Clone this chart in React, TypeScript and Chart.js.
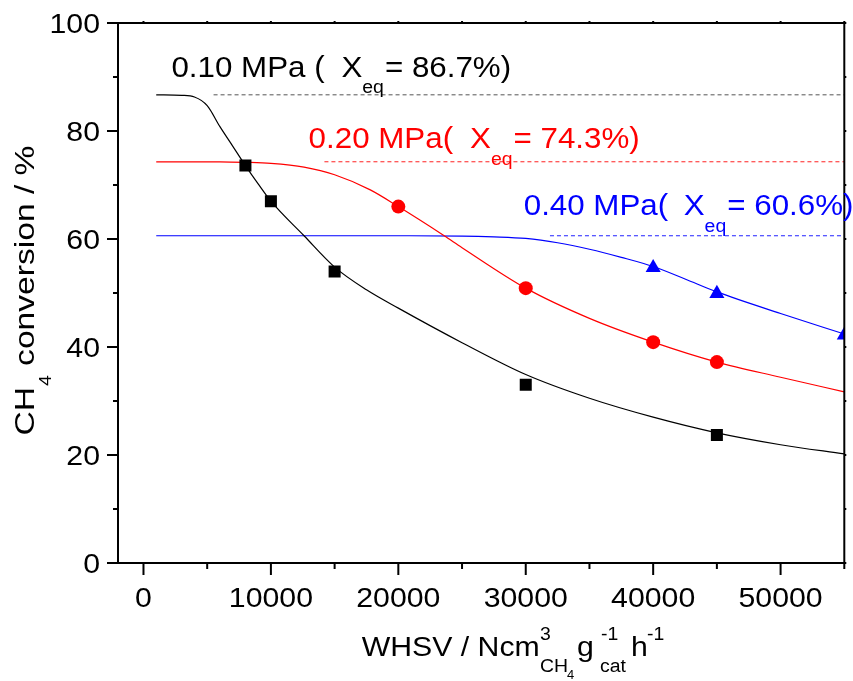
import React, { useEffect, useRef } from 'react';
import { Chart, registerables } from 'chart.js';

Chart.register(...registerables);

// ---------------- data ----------------
const eqLabels = ['0.10 MPa (', '0.20 MPa(', '0.40 MPa('];
const eqConversion = [86.7, 74.3, 60.6];
const eqLineStart = [5500, 14200, 31900];
const eqLineEnd = 55000;
const seriesColors = ['#000000', '#ff0000', '#0000ff'];
const eqLineColors = ['#555555', '#ff2020', '#2020ff'];

// measured points
const whsv010 = [8000, 10000, 15000, 30000, 45000];
const conv010 = [73.6, 67.0, 54.0, 33.0, 23.7];
const whsv020 = [20000, 30000, 40000, 45000];
const conv020 = [66.0, 50.9, 40.9, 37.2];
const whsv040 = [40000, 45000, 55000];
const conv040 = [54.7, 49.9, 42.2];

// fitted curves
const fitX010 = [1000, 3000, 4000, 5000, 6000, 7000, 8000, 9000, 10000, 12600, 15000, 17500, 20000, 25000, 30000, 35000, 40000, 45000, 50000, 55000];
const fitY010 = [86.7, 86.6, 86.3, 84.7, 80.8, 77.2, 73.6, 70.2, 67.0, 60.6, 54.8, 50.6, 47.2, 40.8, 34.9, 30.5, 27.0, 24.1, 21.9, 20.2];
const fitX020 = [1000, 6000, 8000, 10000, 12600, 15000, 17800, 20000, 23600, 25000, 30000, 35000, 40000, 45000, 50000, 55000];
const fitY020 = [74.3, 74.3, 74.2, 74.0, 73.3, 71.9, 69.1, 66.0, 60.6, 58.4, 50.9, 45.3, 40.9, 37.2, 34.4, 31.7];
const fitX040 = [1000, 20000, 25000, 27500, 30000, 32500, 35000, 37500, 40000, 42500, 45000, 50000, 55000];
const fitY040 = [60.6, 60.6, 60.55, 60.4, 60.1, 59.3, 58.1, 56.6, 54.9, 52.6, 50.2, 46.2, 42.4];

// axes
const xMin = -2000;
const xMax = 55000;
const yMin = 0;
const yMax = 100;
const xMajorTicks = [0, 10000, 20000, 30000, 40000, 50000];
const xMinorTicks = [5000, 15000, 25000, 35000, 45000, 55000];
const yMajorTicks = [0, 20, 40, 60, 80, 100];
const yMinorTicks = [10, 30, 50, 70, 90];

// ---------------- helpers ----------------
const FONT = '"Liberation Sans", Arial, sans-serif';
const SX = 1.08;

function txt(ctx: CanvasRenderingContext2D, s: string, x: number, y: number, size: number, color: string, align: 'left' | 'center' | 'right' = 'left', sx: number = SX) {
  ctx.save();
  ctx.font = `${size}px ${FONT}`;
  ctx.fillStyle = color;
  ctx.textBaseline = 'alphabetic';
  ctx.textAlign = 'left';
  const w = ctx.measureText(s).width * sx;
  let x0 = x;
  if (align === 'center') x0 = x - w / 2;
  else if (align === 'right') x0 = x - w;
  ctx.translate(x0, y);
  ctx.scale(sx, 1);
  ctx.fillText(s, 0, 0);
  ctx.restore();
  return w;
}

function pts(xs: number[], ys: number[]) {
  return xs.map((x, i) => ({ x, y: ys[i] }));
}

// label layout (placement of annotation text)
const labelLayout = [
  { x: 2190, y: 90.05, xOff: 170 },
  { x: 12960, y: 76.8, xOff: 161.4 },
  { x: 29840, y: 64.4, xOff: 160 },
];

const decor = {
  id: 'decor',
  afterDraw(chart: any) {
    const ctx: CanvasRenderingContext2D = chart.ctx;
    const a = chart.chartArea;
    const xs = chart.scales.x;
    const ys = chart.scales.y;
    ctx.save();
    ctx.strokeStyle = '#000';
    ctx.lineWidth = 2;
    ctx.lineCap = 'butt';
    // frame
    ctx.strokeRect(a.left, a.top, a.right - a.left, a.bottom - a.top);
    // ticks
    ctx.beginPath();
    xMajorTicks.forEach((v) => {
      const px = xs.getPixelForValue(v);
      ctx.moveTo(px, a.bottom);
      ctx.lineTo(px, a.bottom + 12);
      ctx.moveTo(px, a.top);
      ctx.lineTo(px, a.top - 2);
    });
    xMinorTicks.forEach((v) => {
      const px = xs.getPixelForValue(v);
      ctx.moveTo(px, a.bottom);
      ctx.lineTo(px, a.bottom + 6);
      ctx.moveTo(px, a.top);
      ctx.lineTo(px, a.top - 2);
    });
    yMajorTicks.forEach((v) => {
      const py = ys.getPixelForValue(v);
      ctx.moveTo(a.left, py);
      ctx.lineTo(a.left - 11, py);
      ctx.moveTo(a.right, py);
      ctx.lineTo(a.right + 2, py);
    });
    yMinorTicks.forEach((v) => {
      const py = ys.getPixelForValue(v);
      ctx.moveTo(a.left, py);
      ctx.lineTo(a.left - 5, py);
      ctx.moveTo(a.right, py);
      ctx.lineTo(a.right + 2, py);
    });
    ctx.stroke();

    // tick labels
    xMajorTicks.forEach((v) => {
      txt(ctx, String(v), xs.getPixelForValue(v), 607, 28, '#000', 'center');
    });
    yMajorTicks.forEach((v) => {
      txt(ctx, String(v), 100, ys.getPixelForValue(v) + 10, 28, '#000', 'right');
    });

    // x title
    const xb = 656;
    txt(ctx, 'WHSV / Ncm', 361.7, xb, 28, '#000');
    txt(ctx, '3', 540, xb - 16, 18, '#000');
    txt(ctx, 'CH', 540, xb + 16, 18, '#000');
    txt(ctx, '4', 567, xb + 23, 12, '#000');
    txt(ctx, 'g', 577, xb, 28, '#000');
    txt(ctx, '-1', 601, xb - 16, 18, '#000');
    txt(ctx, 'cat', 600, xb + 16, 18, '#000');
    txt(ctx, 'h', 631, xb, 28, '#000');
    txt(ctx, '-1', 647, xb - 16, 18, '#000');

    // y title (rotated)
    const YS = 1.2;
    ctx.save();
    ctx.translate(33.5, 291);
    ctx.rotate(-Math.PI / 2);
    ctx.font = `28px ${FONT}`;
    const w1 = ctx.measureText('CH').width * YS;
    ctx.font = `16px ${FONT}`;
    const w2 = ctx.measureText('4').width * YS;
    ctx.font = `28px ${FONT}`;
    const w3 = ctx.measureText(' conversion / %').width * YS;
    let cx = -(w1 + w2 + w3) / 2;
    cx += txt(ctx, 'CH', cx, 0, 28, '#000', 'left', YS);
    cx += txt(ctx, '4', cx + 1, 17, 16, '#000', 'left', YS);
    txt(ctx, ' conversion / %', cx + 1, 0, 28, '#000', 'left', YS);
    ctx.restore();

    // equilibrium annotations
    eqLabels.forEach((lab, i) => {
      const L = labelLayout[i];
      const px = xs.getPixelForValue(L.x);
      const py = ys.getPixelForValue(L.y);
      const col = seriesColors[i];
      txt(ctx, lab, px, py, 29, col);
      let x2 = px + L.xOff;
      x2 += txt(ctx, 'X', x2, py, 29, col);
      x2 += txt(ctx, 'eq', x2, py + 16.5, 18, col);
      txt(ctx, `= ${eqConversion[i].toFixed(1)}%)`, x2 + 1, py, 29, col);
    });
    ctx.restore();
  },
};

export default function App() {
  const ref = useRef<HTMLCanvasElement | null>(null);
  useEffect(() => {
    if (!ref.current) return;
    const datasets: any[] = [
      {
        label: 'p010', data: pts(whsv010, conv010), showLine: false,
        pointStyle: 'rect', pointRadius: 8.5, backgroundColor: seriesColors[0], borderColor: seriesColors[0], pointBorderWidth: 0, clip: 0,
      },
      {
        label: 'p020', data: pts(whsv020, conv020), showLine: false,
        pointStyle: 'circle', pointRadius: 7, backgroundColor: seriesColors[1], borderColor: seriesColors[1], pointBorderWidth: 0, clip: 0,
      },
      {
        label: 'p040', data: pts(whsv040, conv040), showLine: false,
        pointStyle: 'triangle', pointRadius: 8.7, backgroundColor: seriesColors[2], borderColor: seriesColors[2], pointBorderWidth: 0, clip: 0,
      },
      {
        label: 'fit010', data: pts(fitX010, fitY010), showLine: true, pointRadius: 0,
        borderColor: seriesColors[0], borderWidth: 1.2, cubicInterpolationMode: 'monotone', clip: 0,
      },
      {
        label: 'fit020', data: pts(fitX020, fitY020), showLine: true, pointRadius: 0,
        borderColor: seriesColors[1], borderWidth: 1.2, cubicInterpolationMode: 'monotone', clip: 0,
      },
      {
        label: 'fit040', data: pts(fitX040, fitY040), showLine: true, pointRadius: 0,
        borderColor: seriesColors[2], borderWidth: 1.2, cubicInterpolationMode: 'monotone', clip: 0,
      },
      ...eqConversion.map((v, i) => ({
        label: 'eq' + i,
        data: [{ x: eqLineStart[i], y: v }, { x: eqLineEnd, y: v }],
        showLine: true, pointRadius: 0, borderColor: eqLineColors[i], borderWidth: 1,
        borderDash: [4, 3], clip: 0,
      })),
    ];
    const chart = new Chart(ref.current, {
      type: 'scatter',
      data: { datasets },
      options: {
        animation: false,
        responsive: false,
        devicePixelRatio: 1,
        layout: { padding: { top: 23, right: 6, left: 0, bottom: 0 } },
        plugins: { legend: { display: false }, tooltip: { enabled: false }, title: { display: false } },
        scales: {
          x: {
            type: 'linear', min: xMin, max: xMax,
            grid: { display: false }, border: { display: false },
            ticks: { display: false },
            afterFit: (s: any) => { s.height = 118; },
          },
          y: {
            type: 'linear', min: yMin, max: yMax,
            grid: { display: false }, border: { display: false },
            ticks: { display: false },
            afterFit: (s: any) => { s.width = 118; },
          },
        },
      } as any,
      plugins: [decor],
    });
    return () => chart.destroy();
  }, []);
  return (
    <div style={{ position: 'fixed', left: 0, top: 0, width: 853, height: 681, background: '#fff' }}>
      <canvas ref={ref} width={853} height={681} style={{ display: 'block', width: 853, height: 681 }} />
    </div>
  );
}
